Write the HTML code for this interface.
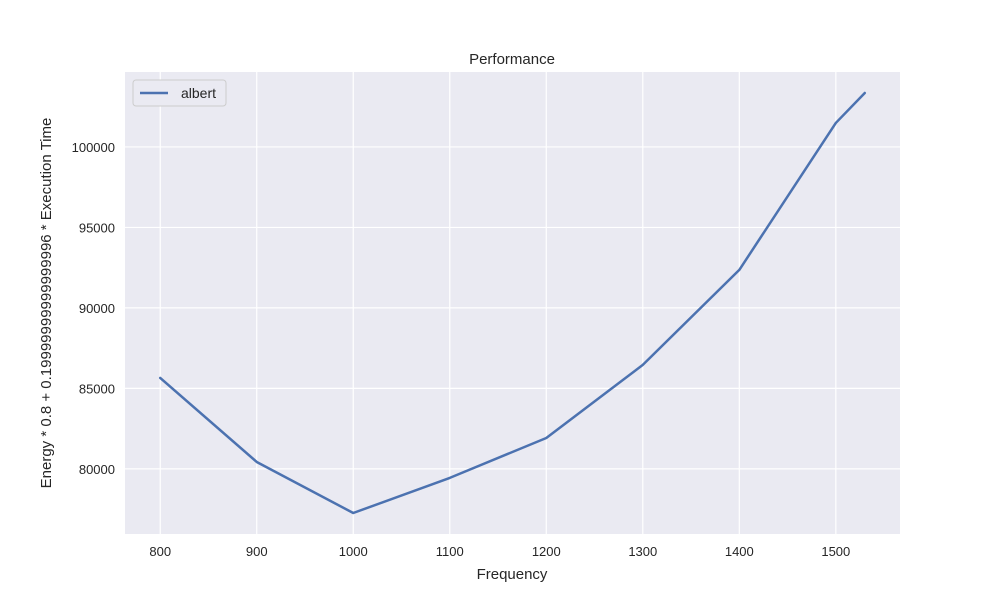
<!DOCTYPE html>
<html><head><meta charset="utf-8"><style>
body{margin:0;background:#fff;}
svg{font-family:"Liberation Sans","DejaVu Sans",sans-serif;}
</style></head><body>
<svg id="chart" width="1000" height="600" xmlns="http://www.w3.org/2000/svg">
<rect x="0" y="0" width="1000" height="600" fill="#ffffff"/>
<rect x="125" y="72" width="775" height="462" fill="#eaeaf2"/>
<g id="grid"></g>
<g id="ticks"></g>
<polyline id="line" fill="none" stroke="#4c72b0" stroke-width="2.5" stroke-linejoin="round" stroke-linecap="round"/>
<text x="512" y="64" text-anchor="middle" font-size="15" fill="#262626">Performance</text>
<text x="512" y="579" text-anchor="middle" font-size="15" fill="#262626">Frequency</text>
<text transform="translate(51,303) rotate(-90)" text-anchor="middle" font-size="15" fill="#262626">Energy * 0.8 + 0.19999999999999996 * Execution Time</text>
<g>
<rect x="133" y="80" width="93" height="26" rx="3" fill="#eaeaf2" stroke="#cccccc" stroke-width="1"/>
<line x1="140" y1="93" x2="168" y2="93" stroke="#4c72b0" stroke-width="2.5"/>
<text x="181" y="98" font-size="14" fill="#262626">albert</text>
</g>
</svg>
<script>
const categories=[800,900,1000,1100,1200,1300,1400,1500,1530];
const values=[85650,80430,77260,79440,81920,86460,92360,101490,103350];
const xTicks=[800,900,1000,1100,1200,1300,1400,1500];
const yTicks=[80000,85000,90000,95000,100000];
const NS="http://www.w3.org/2000/svg";
const L=125,R=900,T=72,B=534;
const xmin=Math.min(...categories),xmax=Math.max(...categories);
const ymin=Math.min(...values),ymax=Math.max(...values);
const xpad=(xmax-xmin)*0.05,ypad=(ymax-ymin)*0.05;
const x0=xmin-xpad,x1=xmax+xpad,y0=ymin-ypad,y1=ymax+ypad;
function sx(v){return L+(v-x0)/(x1-x0)*(R-L);}
function sy(v){return B-(v-y0)/(y1-y0)*(B-T);}
const grid=document.getElementById('grid'),ticks=document.getElementById('ticks');
xTicks.forEach(t=>{
 const l=document.createElementNS(NS,'line');
 
 
 l.setAttribute('x1',sx(t));l.setAttribute('x2',sx(t));l.setAttribute('y1',T);l.setAttribute('y2',B);
 l.setAttribute('stroke','#fff');l.setAttribute('stroke-width','1.2');grid.appendChild(l);
 const s=document.createElementNS(NS,'text');
 
 
 s.setAttribute('x',sx(t));s.setAttribute('y',B+22);s.setAttribute('text-anchor','middle');
 s.setAttribute('font-size','13');s.setAttribute('fill','#262626');s.textContent=t;ticks.appendChild(s);
});
yTicks.forEach(t=>{
 const l=document.createElementNS(NS,'line');
 
 
 l.setAttribute('x1',L);l.setAttribute('x2',R);l.setAttribute('y1',sy(t));l.setAttribute('y2',sy(t));
 l.setAttribute('stroke','#fff');l.setAttribute('stroke-width','1.2');grid.appendChild(l);
 const s=document.createElementNS(NS,'text');
 
 
 s.setAttribute('x',L-10);s.setAttribute('y',sy(t)+5);s.setAttribute('text-anchor','end');
 s.setAttribute('font-size','13');s.setAttribute('fill','#262626');s.textContent=t;ticks.appendChild(s);
});
document.getElementById('line').setAttribute('points',categories.map((c,i)=>sx(c)+','+sy(values[i])).join(' '));
</script>
</body></html>
